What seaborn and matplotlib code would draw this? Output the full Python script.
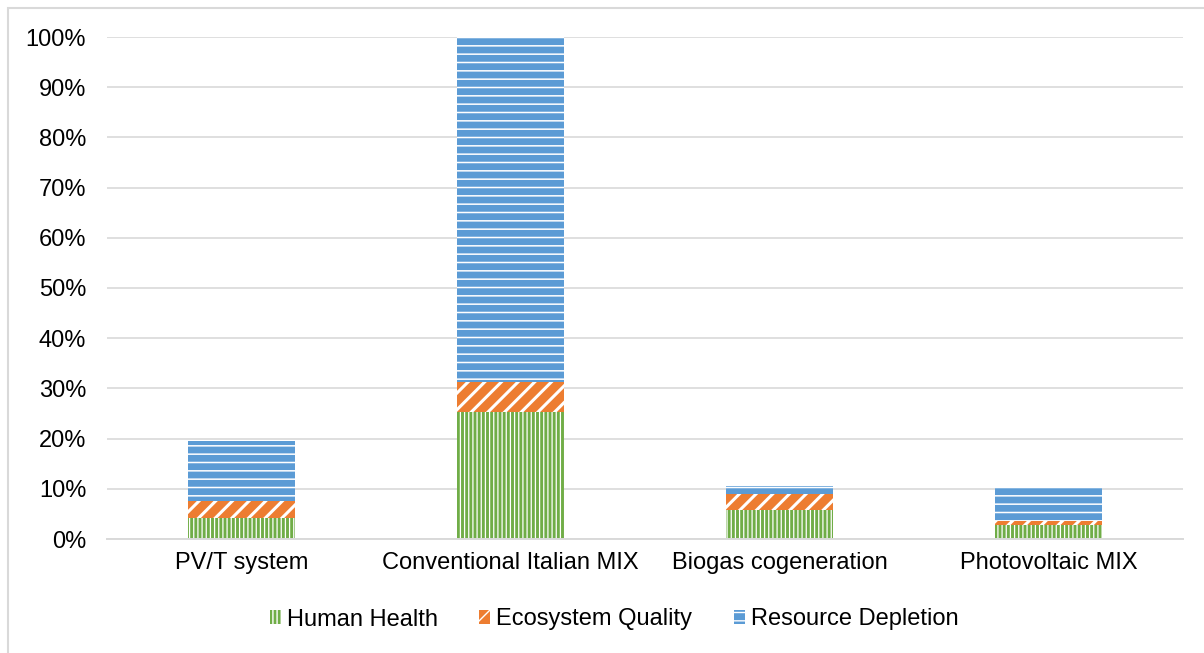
import matplotlib
matplotlib.use("Agg")
import matplotlib.pyplot as plt
import matplotlib.patches as mpatches
from matplotlib.ticker import PercentFormatter, MultipleLocator
import seaborn as sns
import pandas as pd

categories = ["PV/T system", "Conventional Italian MIX", "Biogas cogeneration", "Photovoltaic MIX"]
human_health = [4.2, 25.2, 5.8, 2.8]
ecosystem_quality = [3.35, 6.1, 3.2, 0.85]
resource_depletion = [11.95, 68.7, 1.55, 6.45]

df = pd.DataFrame({
    "System": categories,
    "Human Health": human_health,
    "Ecosystem Quality": ecosystem_quality,
    "Resource Depletion": resource_depletion,
})
df["hh_top"] = df["Human Health"]
df["eq_top"] = df["hh_top"] + df["Ecosystem Quality"]
df["rd_top"] = df["eq_top"] + df["Resource Depletion"]

green = "#70AD47"
orange = "#ED7D31"
blue = "#5B9BD5"
grid_col = "#D9D9D9"

sns.set_theme(style="white")
plt.rcParams["font.family"] = ["Liberation Sans", "DejaVu Sans"]

fig = plt.figure(figsize=(12.04, 6.53), dpi=100)
ax = fig.add_axes([107 / 1204, 1 - 539 / 653, (1183 - 107) / 1204, (539 - 37) / 653])

# overlay: total first, then smaller cumulative sums on top
layers = [
    ("rd_top", blue, "--", 1.1),
    ("eq_top", orange, "//", 2.2),
    ("hh_top", green, "||||", 0.9),
]
for col, colr, hatch, hlw in layers:
    n_before = len(ax.patches)
    sns.barplot(data=df, x="System", y=col, color=colr, saturation=1, width=0.4,
                errorbar=None, hatch=hatch, edgecolor="white", linewidth=0, ax=ax)
    for p in ax.patches[n_before:]:
        if hasattr(p, "set_hatch_linewidth"):
            p.set_hatch_linewidth(hlw)

ax.set_ylim(0, 100)
ax.set_xlim(-0.5, 3.5)
ax.yaxis.set_major_locator(MultipleLocator(10))
ax.yaxis.set_major_formatter(PercentFormatter(100, decimals=0))
ax.grid(axis="y", color=grid_col, linewidth=1.2)
ax.set_axisbelow(True)
for s in ["left", "right", "top"]:
    ax.spines[s].set_visible(False)
ax.spines["bottom"].set_color(grid_col)
ax.spines["bottom"].set_linewidth(1.4)
ax.set_xlabel("")
ax.set_ylabel("")
ax.tick_params(axis="y", length=0, pad=15, labelsize=17, labelcolor="black")
ax.tick_params(axis="x", length=0, pad=9.5, labelsize=17, labelcolor="black")

handles = [
    mpatches.Patch(facecolor=green, edgecolor="white", hatch="||||", linewidth=0, label="Human Health"),
    mpatches.Patch(facecolor=orange, edgecolor="white", hatch="//", linewidth=0, label="Ecosystem Quality"),
    mpatches.Patch(facecolor=blue, edgecolor="white", hatch="--", linewidth=0, label="Resource Depletion"),
]
for h, hlw in zip(handles, [0.9, 2.2, 1.1]):
    if hasattr(h, "set_hatch_linewidth"):
        h.set_hatch_linewidth(hlw)
fig.legend(handles=handles, loc="center", bbox_to_anchor=(614 / 1204, 1 - 619.5 / 653),
           ncol=3, frameon=False, fontsize=17, handlelength=0.47, handleheight=0.55,
           handletextpad=0.25, columnspacing=1.75, labelcolor="black")

# chart area border (top and left visible)
fig.add_artist(mpatches.Rectangle((8 / 1204, -0.2), 1.2, 1.2 - 8 / 653,
                                  transform=fig.transFigure, fill=False,
                                  edgecolor=grid_col, linewidth=1.5))

fig.savefig("out.png", dpi=100)
